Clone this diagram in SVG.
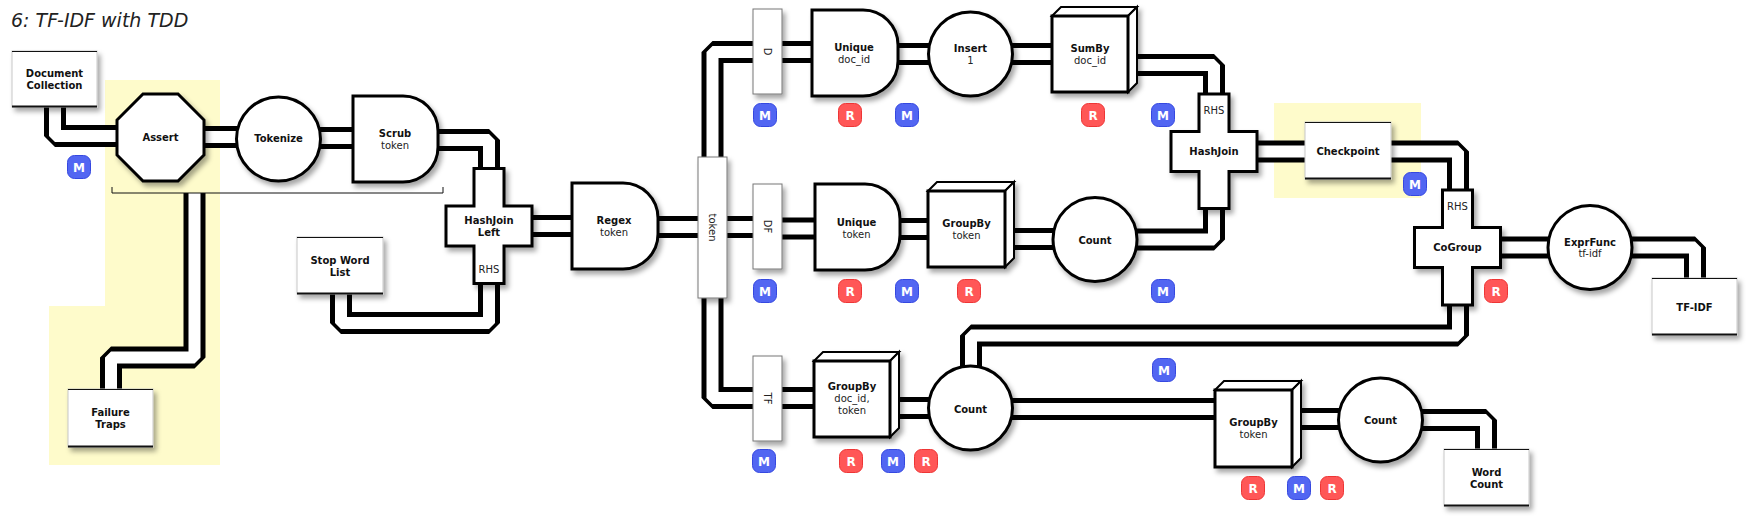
<svg xmlns="http://www.w3.org/2000/svg" xmlns:xlink="http://www.w3.org/1999/xlink" width="1749" height="521" viewBox="0 0 1749 521">
<style>
.hl{fill:#fefbcb}
.po{fill:none;stroke:#000;stroke-width:22;stroke-linejoin:bevel}
.pi{fill:none;stroke:#fff;stroke-width:12;stroke-linejoin:bevel}
.sh{filter:url(#shadow)}
.op{fill:#fff;stroke:#000;stroke-width:3}
.cs{fill:#fff;stroke:#000;stroke-width:2}
.box{fill:#fff;stroke:#c8c8c8;stroke-width:1}
.bl{stroke:#111;fill:none}
.bar{fill:#fff;stroke:#777;stroke-width:1}
.t{font-family:"DejaVu Sans",Verdana,sans-serif;font-size:10px;font-weight:bold;text-anchor:middle;fill:#111}
.s{font-family:"DejaVu Sans",Verdana,sans-serif;font-size:10px;text-anchor:middle;fill:#222}
.bm{fill:#5266f2;stroke:#3548e0;stroke-width:1}
.br{fill:#ff5757;stroke:#ee3535;stroke-width:1}
.bt{font-family:"DejaVu Sans",Verdana,sans-serif;font-size:12px;font-weight:bold;text-anchor:middle;fill:#fff}
.title{font-family:"DejaVu Sans",Verdana,sans-serif;font-size:19px;font-style:italic;fill:#222}
</style>
<defs>
<filter id="shadow" x="-20%" y="-20%" width="150%" height="150%">
<feDropShadow dx="3" dy="4" stdDeviation="2.5" flood-color="#000" flood-opacity="0.35"/>
</filter>
<path id="c1" d="M55,107 V136 H118"/>
<path id="c2" d="M203,137 H238"/>
<path id="c3" d="M319,138 H354"/>
<path id="c4" d="M437,140 H489 V169"/>
<path id="c5" d="M341,293 V323 H489 V282"/>
<path id="c6" d="M531,226 H573"/>
<path id="c7" d="M657,227 H754"/>
<path id="c8" d="M712.5,158 V52 H754"/>
<path id="c9" d="M712.5,297 V398 H754"/>
<path id="c10" d="M781,52 H813"/>
<path id="c11" d="M897,54 H929"/>
<path id="c12" d="M1012,54 H1053"/>
<path id="c13" d="M1136,65 H1214 V95"/>
<path id="c14" d="M781,228.5 H816"/>
<path id="c15" d="M899,229 H929"/>
<path id="c16" d="M1012,239 H1054"/>
<path id="c17" d="M1136,239.5 H1214 V207"/>
<path id="c18" d="M1256,151.5 H1306"/>
<path id="c19" d="M1390,151.5 H1458 V191"/>
<path id="c20" d="M1499,247.5 H1549"/>
<path id="c21" d="M1631,247.5 H1695 V279"/>
<path id="c22" d="M1458,304 V335.5 H971 V367"/>
<path id="c23" d="M781,398 H815"/>
<path id="c24" d="M898,408 H929"/>
<path id="c25" d="M1012,409 H1216"/>
<path id="c26" d="M1300,419 H1339"/>
<path id="c27" d="M1422,420 H1486 V450"/>
<path id="c28" d="M194.5,193 V357.5 H111 V390"/>
</defs>

<rect x="0" y="0" width="1749" height="521" fill="#fff"/>
<text class="title" x="11" y="26.5">6: TF-IDF with TDD</text>

<g id="highlights">
<rect class="hl" x="105" y="80" width="115" height="385"/>
<rect class="hl" x="49" y="306" width="57" height="159"/>
<rect class="hl" x="1274" y="103" width="147" height="95"/>
</g>

<g id="connectors">
<g class="po">
<use xlink:href="#c1"/><use xlink:href="#c2"/><use xlink:href="#c3"/><use xlink:href="#c4"/><use xlink:href="#c5"/><use xlink:href="#c6"/><use xlink:href="#c7"/><use xlink:href="#c8"/><use xlink:href="#c9"/><use xlink:href="#c10"/><use xlink:href="#c11"/><use xlink:href="#c12"/><use xlink:href="#c13"/><use xlink:href="#c14"/><use xlink:href="#c15"/><use xlink:href="#c16"/><use xlink:href="#c17"/><use xlink:href="#c18"/><use xlink:href="#c19"/><use xlink:href="#c20"/><use xlink:href="#c21"/><use xlink:href="#c22"/><use xlink:href="#c23"/><use xlink:href="#c24"/><use xlink:href="#c25"/><use xlink:href="#c26"/><use xlink:href="#c27"/><use xlink:href="#c28"/>
</g>
<g class="pi">
<use xlink:href="#c1"/><use xlink:href="#c2"/><use xlink:href="#c3"/><use xlink:href="#c4"/><use xlink:href="#c5"/><use xlink:href="#c6"/><use xlink:href="#c7"/><use xlink:href="#c8"/><use xlink:href="#c9"/><use xlink:href="#c10"/><use xlink:href="#c11"/><use xlink:href="#c12"/><use xlink:href="#c13"/><use xlink:href="#c14"/><use xlink:href="#c15"/><use xlink:href="#c16"/><use xlink:href="#c17"/><use xlink:href="#c18"/><use xlink:href="#c19"/><use xlink:href="#c20"/><use xlink:href="#c21"/><use xlink:href="#c22"/><use xlink:href="#c23"/><use xlink:href="#c24"/><use xlink:href="#c25"/><use xlink:href="#c26"/><use xlink:href="#c27"/><use xlink:href="#c28"/>
</g>
<path id="bracket" d="M112,187 V193 H443 V187" fill="none" stroke="#111" stroke-width="1"/>
</g>

<g id="doc-collection">
<rect class="box sh" x="12" y="51" width="85" height="56"/>
<path class="bl" d="M12,51.5 H97" stroke-width="1"/><path class="bl" d="M12,106.5 H97" stroke-width="2"/>
<text class="t" x="54.5" y="76.5">Document</text><text class="t" x="54.5" y="88.5">Collection</text>
</g>

<g id="assert">
<polygon class="op sh" points="143,94 178,94 204,120 204,155 178,181 143,181 117,155 117,120"/>
<text class="t" x="160.5" y="140.5">Assert</text>
</g>

<g id="tokenize">
<circle class="op sh" cx="278.5" cy="139" r="42"/>
<text class="t" x="278.5" y="141.5">Tokenize</text>
</g>

<g id="scrub">
<path class="op sh" d="M353,96 H403 A35,35 0 0 1 438,131 V147 A35,35 0 0 1 403,182 H353 Z"/>
<text class="t" x="395" y="136.5">Scrub</text><text class="s" x="395" y="148.5">token</text>
</g>

<g id="failure-traps">
<rect class="box sh" x="68" y="389" width="85" height="58"/>
<path class="bl" d="M68,389.5 H153" stroke-width="1"/><path class="bl" d="M68,446.5 H153" stroke-width="2"/>
<text class="t" x="110.5" y="416">Failure</text><text class="t" x="110.5" y="427.5">Traps</text>
</g>

<g id="stop-word-list">
<rect class="box sh" x="297" y="237" width="86" height="57"/>
<path class="bl" d="M297,237.5 H383" stroke-width="1"/><path class="bl" d="M297,293.5 H383" stroke-width="2"/>
<text class="t" x="340" y="263.5">Stop Word</text><text class="t" x="340" y="275.5">List</text>
</g>

<g id="hashjoin-left">
<path class="op sh" d="M474,168.5 H504 V206 H532 V246 H504 V283.5 H474 V246 H446 V206 H474 Z"/>
<text class="t" x="489" y="224">HashJoin</text><text class="t" x="489" y="235.5">Left</text>
<text class="s" x="489" y="272.5">RHS</text>
</g>

<g id="regex">
<path class="op sh" d="M572,183 H623 A35,35 0 0 1 658,218 V234 A35,35 0 0 1 623,269 H572 Z"/>
<text class="t" x="614" y="224">Regex</text><text class="s" x="614" y="235.5">token</text>
</g>

<g id="token-split">
<rect class="bar sh" x="698" y="157" width="29" height="141"/>
<text class="s" transform="translate(712.5,227.5) rotate(90)" y="3.5">token</text>
</g>

<g id="d-tap">
<rect class="bar sh" x="753" y="9" width="29" height="85"/>
<text class="s" transform="translate(767.5,51.5) rotate(90)" y="3.5">D</text>
</g>

<g id="df-tap">
<rect class="bar sh" x="753" y="184" width="29" height="85"/>
<text class="s" transform="translate(767.5,226.5) rotate(90)" y="3.5">DF</text>
</g>

<g id="tf-tap">
<rect class="bar sh" x="753" y="356" width="29" height="85"/>
<text class="s" transform="translate(767.5,398.5) rotate(90)" y="3.5">TF</text>
</g>

<g id="unique-docid">
<path class="op sh" d="M812,10 H863 A35,35 0 0 1 898,45 V61 A35,35 0 0 1 863,96 H812 Z"/>
<text class="t" x="854" y="50.5">Unique</text><text class="s" x="854" y="62.5">doc_id</text>
</g>

<g id="insert">
<circle class="op sh" cx="970.5" cy="54" r="42"/>
<text class="t" x="970.5" y="51.5">Insert</text><text class="s" x="970.5" y="63.5">1</text>
</g>

<g id="sumby">
<g class="sh">
<polygon class="cs" points="1052,16 1061,7 1137,7 1128,16"/>
<polygon class="cs" points="1128,16 1137,7 1137,83 1128,92"/>
<rect class="op" x="1052" y="16" width="76" height="76"/>
</g>
<text class="t" x="1090" y="51.5">SumBy</text><text class="s" x="1090" y="63.5">doc_id</text>
</g>

<g id="hashjoin">
<path class="op sh" d="M1199,94 H1229 V131.5 H1257 V171.5 H1229 V208.5 H1199 V171.5 H1171 V131.5 H1199 Z"/>
<text class="s" x="1214" y="113.5">RHS</text>
<text class="t" x="1214" y="154.5">HashJoin</text>
</g>

<g id="unique-token">
<path class="op sh" d="M815,184 H865 A35,35 0 0 1 900,219 V235 A35,35 0 0 1 865,270 H815 Z"/>
<text class="t" x="856.5" y="225.5">Unique</text><text class="s" x="856.5" y="237.5">token</text>
</g>

<g id="groupby-token-df">
<g class="sh">
<polygon class="cs" points="928,191 937,182 1014,182 1005,191"/>
<polygon class="cs" points="1005,191 1014,182 1014,258 1005,267"/>
<rect class="op" x="928" y="191" width="77" height="76"/>
</g>
<text class="t" x="966.5" y="226.5">GroupBy</text><text class="s" x="966.5" y="238.5">token</text>
</g>

<g id="count-df">
<circle class="op sh" cx="1095" cy="239.5" r="42"/>
<text class="t" x="1095" y="243.5">Count</text>
</g>

<g id="checkpoint">
<rect class="box sh" x="1305" y="122" width="86" height="57"/>
<path class="bl" d="M1305,122.5 H1391" stroke-width="1"/><path class="bl" d="M1305,178.5 H1391" stroke-width="2"/>
<text class="t" x="1348" y="154.5">Checkpoint</text>
</g>

<g id="cogroup">
<path class="op sh" d="M1442.5,190 H1472.5 V227.5 H1500.5 V267.5 H1472.5 V305 H1442.5 V267.5 H1414.5 V227.5 H1442.5 Z"/>
<text class="s" x="1457.5" y="209.5">RHS</text>
<text class="t" x="1457.5" y="250.5">CoGroup</text>
</g>

<g id="exprfunc">
<circle class="op sh" cx="1590" cy="247.5" r="42"/>
<text class="t" x="1590" y="245.5">ExprFunc</text><text class="s" x="1590" y="256.5">tf-idf</text>
</g>

<g id="tf-idf">
<rect class="box sh" x="1652" y="278" width="85" height="57"/>
<path class="bl" d="M1652,278.5 H1737" stroke-width="1"/><path class="bl" d="M1652,334.5 H1737" stroke-width="2"/>
<text class="t" x="1694.5" y="310.5">TF-IDF</text>
</g>

<g id="groupby-docid-token">
<g class="sh">
<polygon class="cs" points="814,361 823,352 899,352 890,361"/>
<polygon class="cs" points="890,361 899,352 899,428 890,437"/>
<rect class="op" x="814" y="361" width="76" height="76"/>
</g>
<text class="t" x="852" y="390">GroupBy</text><text class="s" x="852" y="402">doc_id,</text><text class="s" x="852" y="413.5">token</text>
</g>

<g id="count-tf">
<circle class="op sh" cx="970.5" cy="408" r="42"/>
<text class="t" x="970.5" y="412.5">Count</text>
</g>

<g id="groupby-token-wc">
<g class="sh">
<polygon class="cs" points="1215,390 1224,381 1301,381 1292,390"/>
<polygon class="cs" points="1292,390 1301,381 1301,458 1292,467"/>
<rect class="op" x="1215" y="390" width="77" height="77"/>
</g>
<text class="t" x="1253.5" y="425.5">GroupBy</text><text class="s" x="1253.5" y="437.5">token</text>
</g>

<g id="count-wc">
<circle class="op sh" cx="1380.5" cy="420" r="42"/>
<text class="t" x="1380.5" y="423.5">Count</text>
</g>

<g id="word-count">
<rect class="box sh" x="1444" y="449" width="85" height="57"/>
<path class="bl" d="M1444,449.5 H1529" stroke-width="1"/><path class="bl" d="M1444,505.5 H1529" stroke-width="2"/>
<text class="t" x="1486.5" y="475.5">Word</text><text class="t" x="1486.5" y="487.5">Count</text>
</g>

<g id="badges">
<rect class="bm" x="67.5" y="155.5" width="23" height="23" rx="7"/><text class="bt" x="79" y="171.5">M</text>
<rect class="bm" x="753.5" y="103.5" width="23" height="23" rx="7"/><text class="bt" x="765" y="119.5">M</text>
<rect class="br" x="838.5" y="103.5" width="23" height="23" rx="7"/><text class="bt" x="850" y="119.5">R</text>
<rect class="bm" x="895.5" y="103.5" width="23" height="23" rx="7"/><text class="bt" x="907" y="119.5">M</text>
<rect class="br" x="1081.5" y="103.5" width="23" height="23" rx="7"/><text class="bt" x="1093" y="119.5">R</text>
<rect class="bm" x="1151.5" y="103.5" width="23" height="23" rx="7"/><text class="bt" x="1163" y="119.5">M</text>
<rect class="bm" x="753.5" y="279.5" width="23" height="23" rx="7"/><text class="bt" x="765" y="295.5">M</text>
<rect class="br" x="838.5" y="279.5" width="23" height="23" rx="7"/><text class="bt" x="850" y="295.5">R</text>
<rect class="bm" x="895.5" y="279.5" width="23" height="23" rx="7"/><text class="bt" x="907" y="295.5">M</text>
<rect class="br" x="957.5" y="279.5" width="23" height="23" rx="7"/><text class="bt" x="969" y="295.5">R</text>
<rect class="bm" x="1151.5" y="279.5" width="23" height="23" rx="7"/><text class="bt" x="1163" y="295.5">M</text>
<rect class="bm" x="1403.5" y="172.5" width="23" height="23" rx="7"/><text class="bt" x="1415" y="188.5">M</text>
<rect class="br" x="1484.5" y="279.5" width="23" height="23" rx="7"/><text class="bt" x="1496" y="295.5">R</text>
<rect class="bm" x="1152.5" y="358.5" width="23" height="23" rx="7"/><text class="bt" x="1164" y="374.5">M</text>
<rect class="bm" x="752.5" y="449.5" width="23" height="23" rx="7"/><text class="bt" x="764" y="465.5">M</text>
<rect class="br" x="839.5" y="449.5" width="23" height="23" rx="7"/><text class="bt" x="851" y="465.5">R</text>
<rect class="bm" x="881.5" y="449.5" width="23" height="23" rx="7"/><text class="bt" x="893" y="465.5">M</text>
<rect class="br" x="914.5" y="449.5" width="23" height="23" rx="7"/><text class="bt" x="926" y="465.5">R</text>
<rect class="br" x="1241.5" y="476.5" width="23" height="23" rx="7"/><text class="bt" x="1253" y="492.5">R</text>
<rect class="bm" x="1287.5" y="476.5" width="23" height="23" rx="7"/><text class="bt" x="1299" y="492.5">M</text>
<rect class="br" x="1320.5" y="476.5" width="23" height="23" rx="7"/><text class="bt" x="1332" y="492.5">R</text>
</g>
</svg>
